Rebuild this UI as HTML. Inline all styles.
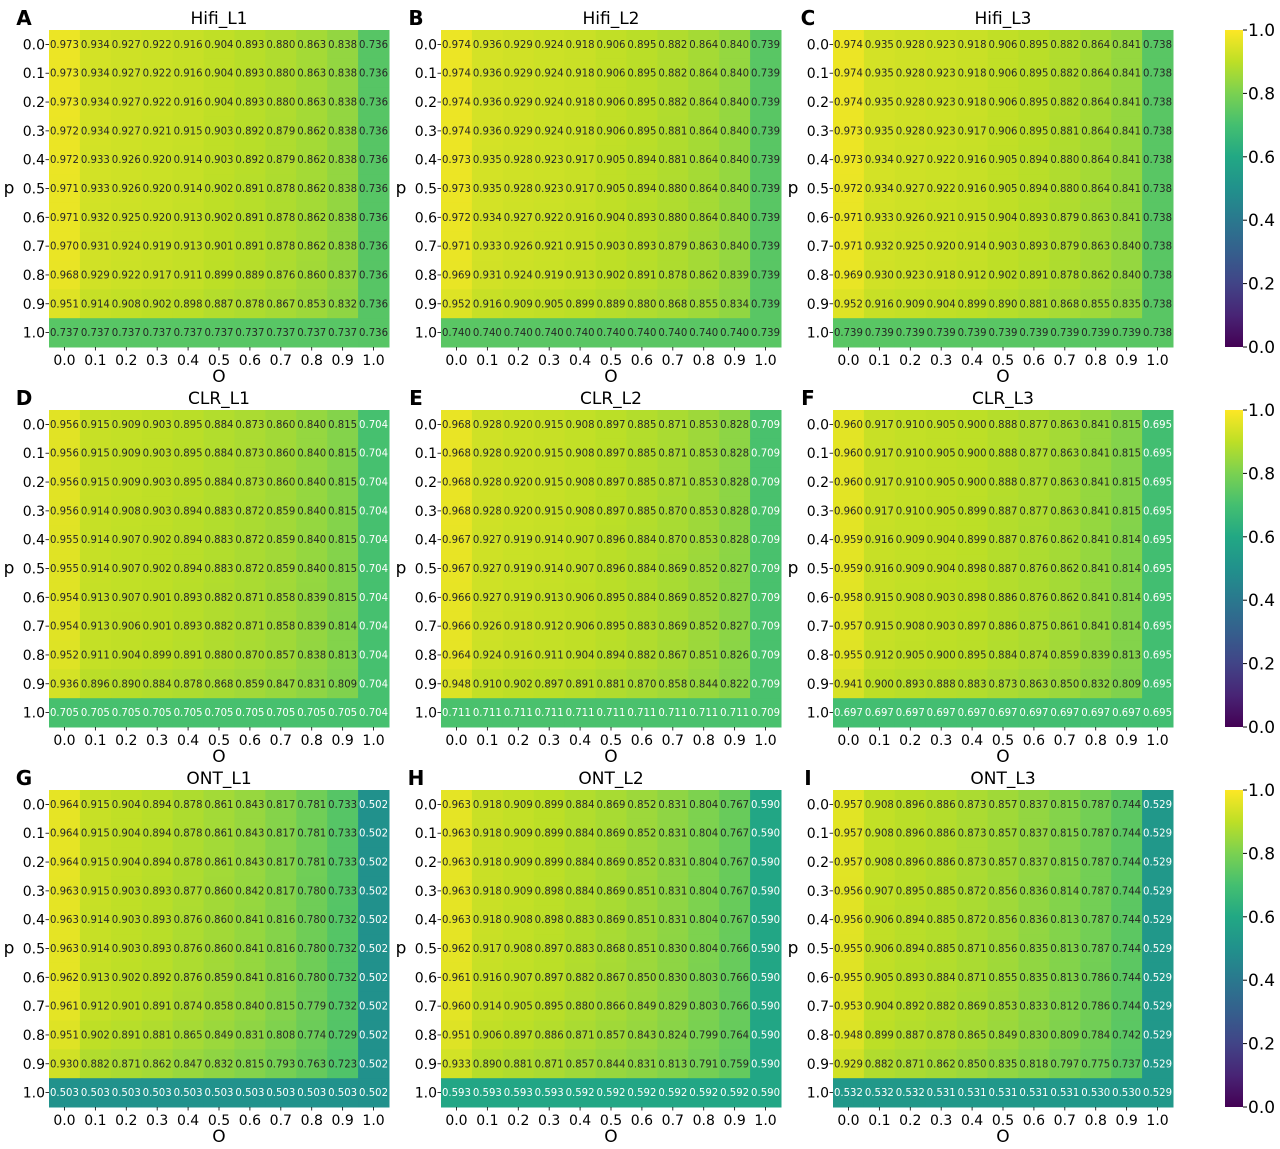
<!DOCTYPE html>
<html><head><meta charset="utf-8">
<style>
html,body{margin:0;padding:0;background:#fff;}
svg{display:block;font-family:"DejaVu Sans","Liberation Sans",sans-serif;}
</style></head>
<body>
<svg id="fig" width="1280" height="1149" viewBox="0 0 1280 1149" xmlns="http://www.w3.org/2000/svg"></svg>
<script>
const ticks = ["0.0","0.1","0.2","0.3","0.4","0.5","0.6","0.7","0.8","0.9","1.0"];
const cbTicks = [0,0.2,0.4,0.6,0.8,1.0];
const titles = ["Hifi_L1","Hifi_L2","Hifi_L3","CLR_L1","CLR_L2","CLR_L3","ONT_L1","ONT_L2","ONT_L3"];
const letters = ["A","B","C","D","E","F","G","H","I"];

const hifiL1 = [
[.973,.934,.927,.922,.916,.904,.893,.880,.863,.838,.736],
[.973,.934,.927,.922,.916,.904,.893,.880,.863,.838,.736],
[.973,.934,.927,.922,.916,.904,.893,.880,.863,.838,.736],
[.972,.934,.927,.921,.915,.903,.892,.879,.862,.838,.736],
[.972,.933,.926,.920,.914,.903,.892,.879,.862,.838,.736],
[.971,.933,.926,.920,.914,.902,.891,.878,.862,.838,.736],
[.971,.932,.925,.920,.913,.902,.891,.878,.862,.838,.736],
[.970,.931,.924,.919,.913,.901,.891,.878,.862,.838,.736],
[.968,.929,.922,.917,.911,.899,.889,.876,.860,.837,.736],
[.951,.914,.908,.902,.898,.887,.878,.867,.853,.832,.736],
[.737,.737,.737,.737,.737,.737,.737,.737,.737,.737,.736]];
const hifiL2 = [
[.974,.936,.929,.924,.918,.906,.895,.882,.864,.840,.739],
[.974,.936,.929,.924,.918,.906,.895,.882,.864,.840,.739],
[.974,.936,.929,.924,.918,.906,.895,.882,.864,.840,.739],
[.974,.936,.929,.924,.918,.906,.895,.881,.864,.840,.739],
[.973,.935,.928,.923,.917,.905,.894,.881,.864,.840,.739],
[.973,.935,.928,.923,.917,.905,.894,.880,.864,.840,.739],
[.972,.934,.927,.922,.916,.904,.893,.880,.864,.840,.739],
[.971,.933,.926,.921,.915,.903,.893,.879,.863,.840,.739],
[.969,.931,.924,.919,.913,.902,.891,.878,.862,.839,.739],
[.952,.916,.909,.905,.899,.889,.880,.868,.855,.834,.739],
[.740,.740,.740,.740,.740,.740,.740,.740,.740,.740,.739]];
const hifiL3 = [
[.974,.935,.928,.923,.918,.906,.895,.882,.864,.841,.738],
[.974,.935,.928,.923,.918,.906,.895,.882,.864,.841,.738],
[.974,.935,.928,.923,.918,.906,.895,.882,.864,.841,.738],
[.973,.935,.928,.923,.917,.906,.895,.881,.864,.841,.738],
[.973,.934,.927,.922,.916,.905,.894,.880,.864,.841,.738],
[.972,.934,.927,.922,.916,.905,.894,.880,.864,.841,.738],
[.971,.933,.926,.921,.915,.904,.893,.879,.863,.841,.738],
[.971,.932,.925,.920,.914,.903,.893,.879,.863,.840,.738],
[.969,.930,.923,.918,.912,.902,.891,.878,.862,.840,.738],
[.952,.916,.909,.904,.899,.890,.881,.868,.855,.835,.738],
[.739,.739,.739,.739,.739,.739,.739,.739,.739,.739,.738]];
const clrL1 = [
[.956,.915,.909,.903,.895,.884,.873,.860,.840,.815,.704],
[.956,.915,.909,.903,.895,.884,.873,.860,.840,.815,.704],
[.956,.915,.909,.903,.895,.884,.873,.860,.840,.815,.704],
[.956,.914,.908,.903,.894,.883,.872,.859,.840,.815,.704],
[.955,.914,.907,.902,.894,.883,.872,.859,.840,.815,.704],
[.955,.914,.907,.902,.894,.883,.872,.859,.840,.815,.704],
[.954,.913,.907,.901,.893,.882,.871,.858,.839,.815,.704],
[.954,.913,.906,.901,.893,.882,.871,.858,.839,.814,.704],
[.952,.911,.904,.899,.891,.880,.870,.857,.838,.813,.704],
[.936,.896,.890,.884,.878,.868,.859,.847,.831,.809,.704],
[.705,.705,.705,.705,.705,.705,.705,.705,.705,.705,.704]];
const clrL2 = [
[.968,.928,.920,.915,.908,.897,.885,.871,.853,.828,.709],
[.968,.928,.920,.915,.908,.897,.885,.871,.853,.828,.709],
[.968,.928,.920,.915,.908,.897,.885,.871,.853,.828,.709],
[.968,.928,.920,.915,.908,.897,.885,.870,.853,.828,.709],
[.967,.927,.919,.914,.907,.896,.884,.870,.853,.828,.709],
[.967,.927,.919,.914,.907,.896,.884,.869,.852,.827,.709],
[.966,.927,.919,.913,.906,.895,.884,.869,.852,.827,.709],
[.966,.926,.918,.912,.906,.895,.883,.869,.852,.827,.709],
[.964,.924,.916,.911,.904,.894,.882,.867,.851,.826,.709],
[.948,.910,.902,.897,.891,.881,.870,.858,.844,.822,.709],
[.711,.711,.711,.711,.711,.711,.711,.711,.711,.711,.709]];
const clrL3 = [
[.960,.917,.910,.905,.900,.888,.877,.863,.841,.815,.695],
[.960,.917,.910,.905,.900,.888,.877,.863,.841,.815,.695],
[.960,.917,.910,.905,.900,.888,.877,.863,.841,.815,.695],
[.960,.917,.910,.905,.899,.887,.877,.863,.841,.815,.695],
[.959,.916,.909,.904,.899,.887,.876,.862,.841,.814,.695],
[.959,.916,.909,.904,.898,.887,.876,.862,.841,.814,.695],
[.958,.915,.908,.903,.898,.886,.876,.862,.841,.814,.695],
[.957,.915,.908,.903,.897,.886,.875,.861,.841,.814,.695],
[.955,.912,.905,.900,.895,.884,.874,.859,.839,.813,.695],
[.941,.900,.893,.888,.883,.873,.863,.850,.832,.809,.695],
[.697,.697,.697,.697,.697,.697,.697,.697,.697,.697,.695]];
const ontL1 = [
[.964,.915,.904,.894,.878,.861,.843,.817,.781,.733,.502],
[.964,.915,.904,.894,.878,.861,.843,.817,.781,.733,.502],
[.964,.915,.904,.894,.878,.861,.843,.817,.781,.733,.502],
[.963,.915,.903,.893,.877,.860,.842,.817,.780,.733,.502],
[.963,.914,.903,.893,.876,.860,.841,.816,.780,.732,.502],
[.963,.914,.903,.893,.876,.860,.841,.816,.780,.732,.502],
[.962,.913,.902,.892,.876,.859,.841,.816,.780,.732,.502],
[.961,.912,.901,.891,.874,.858,.840,.815,.779,.732,.502],
[.951,.902,.891,.881,.865,.849,.831,.808,.774,.729,.502],
[.930,.882,.871,.862,.847,.832,.815,.793,.763,.723,.502],
[.503,.503,.503,.503,.503,.503,.503,.503,.503,.503,.502]];
const ontL2 = [
[.963,.918,.909,.899,.884,.869,.852,.831,.804,.767,.590],
[.963,.918,.909,.899,.884,.869,.852,.831,.804,.767,.590],
[.963,.918,.909,.899,.884,.869,.852,.831,.804,.767,.590],
[.963,.918,.909,.898,.884,.869,.851,.831,.804,.767,.590],
[.963,.918,.908,.898,.883,.869,.851,.831,.804,.767,.590],
[.962,.917,.908,.897,.883,.868,.851,.830,.804,.766,.590],
[.961,.916,.907,.897,.882,.867,.850,.830,.803,.766,.590],
[.960,.914,.905,.895,.880,.866,.849,.829,.803,.766,.590],
[.951,.906,.897,.886,.871,.857,.843,.824,.799,.764,.590],
[.933,.890,.881,.871,.857,.844,.831,.813,.791,.759,.590],
[.593,.593,.593,.593,.592,.592,.592,.592,.592,.592,.590]];
const ontL3 = [
[.957,.908,.896,.886,.873,.857,.837,.815,.787,.744,.529],
[.957,.908,.896,.886,.873,.857,.837,.815,.787,.744,.529],
[.957,.908,.896,.886,.873,.857,.837,.815,.787,.744,.529],
[.956,.907,.895,.885,.872,.856,.836,.814,.787,.744,.529],
[.956,.906,.894,.885,.872,.856,.836,.813,.787,.744,.529],
[.955,.906,.894,.885,.871,.856,.835,.813,.787,.744,.529],
[.955,.905,.893,.884,.871,.855,.835,.813,.786,.744,.529],
[.953,.904,.892,.882,.869,.853,.833,.812,.786,.744,.529],
[.948,.899,.887,.878,.865,.849,.830,.809,.784,.742,.529],
[.929,.882,.871,.862,.850,.835,.818,.797,.775,.737,.529],
[.532,.532,.532,.531,.531,.531,.531,.531,.530,.530,.529]];
const panels = [hifiL1,hifiL2,hifiL3,clrL1,clrL2,clrL3,ontL1,ontL2,ontL3];

const VIR = ["#440154","#482475","#414487","#355f8d","#2a788e","#21918c","#22a884","#44bf70","#7ad151","#bddf26","#fde725"];
function hex(h){return [1,3,5].map(i=>parseInt(h.substr(i,2),16));}
function viridis(t){
  t=Math.max(0,Math.min(1,t));
  const f=t*10, i=Math.min(9,Math.floor(f)), r=f-i;
  const a=hex(VIR[i]), b=hex(VIR[i+1]);
  return "rgb("+a.map((v,k)=>Math.round(v+(b[k]-v)*r)).join(",")+")";
}
const NS="http://www.w3.org/2000/svg";
const svg=document.getElementById("fig");
function el(tag,attrs,parent,text){
  const e=document.createElementNS(NS,tag);
  for(const k in attrs) e.setAttribute(k,attrs[k]);
  if(text!==undefined) e.textContent=text;
  (parent||svg).appendChild(e);
  return e;
}
const colX=[49,441,833], rowY=[30,410,790];
const W=340, H=317, n=11, cw=W/n, ch=H/n;
function xScale(px,j){return px+j*cw;}
function yScale(py,i){return py+i*ch;}

panels.forEach((data,pi)=>{
  const px=colX[pi%3], py=rowY[Math.floor(pi/3)];
  const g=el("g",{});
  
  
  data.forEach((row,i)=>{
    row.forEach((v,j)=>{
      const r=el("rect",{x:xScale(px,j),y:yScale(py,i),width:cw+0.5,height:ch+0.5,fill:viridis(v)},g);
      
      
      const t=el("text",{x:xScale(px,j)+cw/2,y:yScale(py,i)+ch/2+3.5,"text-anchor":"middle","font-size":"10.3","textLength":"29","lengthAdjust":"spacingAndGlyphs",fill:v<0.72?"#fff":"#262626"},g,v.toFixed(3));
      
      
    });
  });
  ticks.forEach((lb,k)=>{
    const yy=yScale(py,k)+ch/2;
    el("line",{x1:px-3.5,x2:px,y1:yy,y2:yy,stroke:"#000","stroke-width":"0.8"},g);
    const yt=el("text",{x:px-4,y:yy+5,"text-anchor":"end","font-size":"14",fill:"#000"},g,lb);
    
    
    const xx=xScale(px,k)+cw/2;
    el("line",{x1:xx,x2:xx,y1:py+H,y2:py+H+3.5,stroke:"#000","stroke-width":"0.8"},g);
    const xt=el("text",{x:xx,y:py+H+18,"text-anchor":"middle","font-size":"14",fill:"#000"},g,lb);
    
    
  });
  const tt=el("text",{x:px+W/2,y:py-6,"text-anchor":"middle","font-size":"17",fill:"#000"},g,titles[pi]);
  
  
  const lt=el("text",{x:px-25,y:py-5,"text-anchor":"middle","font-size":"20","font-weight":"bold",fill:"#000"},g,letters[pi]);
  
  
  const xl=el("text",{x:px+W/2,y:py+H+35,"text-anchor":"middle","font-size":"17",fill:"#000"},g,"O");
  
  
  const yl=el("text",{x:px-40,y:py+H/2+5,"text-anchor":"middle","font-size":"17",fill:"#000"},g,"p");
  
  
});

// colorbars
const defs=el("defs",{});
const grad=el("linearGradient",{id:"vg",x1:"0",y1:"1",x2:"0",y2:"0"},defs);
VIR.forEach((c,i)=>el("stop",{offset:(i*10)+"%","stop-color":c},grad));
rowY.forEach((py,ri)=>{
  const g=el("g",{});
  
  
  el("rect",{x:1225,y:py,width:18,height:H,fill:"url(#vg)"},g);
  cbTicks.forEach(v=>{
    const y=py+H-v*H;
    el("line",{x1:1243,x2:1247,y1:y,y2:y,stroke:"#000","stroke-width":"1"},g);
    const t=el("text",{x:1248,y:y+6,"font-size":"17",fill:"#000"},g,v.toFixed(1));
    
    
  });
});
</script>
</body></html>
